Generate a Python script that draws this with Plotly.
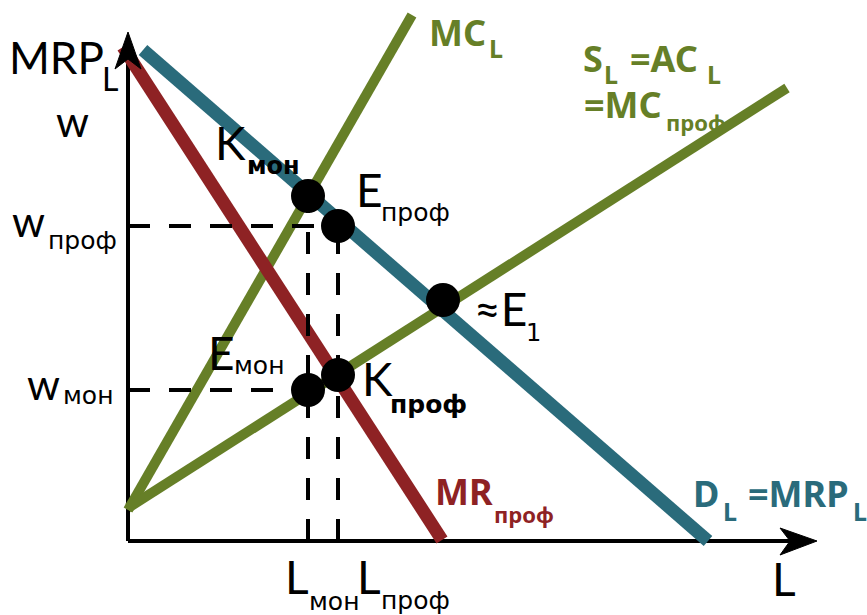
import plotly.graph_objects as go

# curves as (L, w) pairs, origin at the corner of the axes
mc_L = [0, 284]
mc_w = [31, 526]
s_L = [0, 659]
s_w = [33, 453]
d_L = [15, 580]
d_w = [491, 0]
mr_L = [-5, 314]
mr_w = [494, 1]

# equilibrium points: K_мон, E_проф, ≈E1, E_мон, K_проф
pt_L = [180, 210, 315, 180, 210]
pt_w = [345, 315, 241, 151, 166]

# levels marked on the axes
L_mon, L_prof = 180, 210
w_prof, w_mon = 315, 151

GREEN = '#667f27'
TEAL = '#2a6b7b'
RED = '#8e2224'
MAIN = 'Lato, DejaVu Sans, sans-serif'
CYR = 'DejaVu Sans, sans-serif'
BOLD = 'Noto Sans, DejaVu Sans, sans-serif'

fig = go.Figure()

# axes
fig.add_trace(go.Scatter(x=[0, 0], y=[0, 486], mode='lines', line=dict(color='black', width=4)))
fig.add_trace(go.Scatter(x=[0, 664], y=[0, 0], mode='lines', line=dict(color='black', width=4)))
fig.add_shape(type='path', path='M 0 509 L -13 472 L 0 482 L 13 472 Z',
              fillcolor='black', line=dict(color='black', width=1))
fig.add_shape(type='path', path='M 689 0 L 652 13 L 662 0 L 652 -14 Z',
              fillcolor='black', line=dict(color='black', width=1))

# curves
fig.add_trace(go.Scatter(x=mc_L, y=mc_w, mode='lines', line=dict(color=GREEN, width=10)))
fig.add_trace(go.Scatter(x=s_L, y=s_w, mode='lines', line=dict(color=GREEN, width=10)))
fig.add_trace(go.Scatter(x=d_L, y=d_w, mode='lines', line=dict(color=TEAL, width=13)))
fig.add_trace(go.Scatter(x=mr_L, y=mr_w, mode='lines', line=dict(color=RED, width=13)))

# dashed guides
dash = dict(color='black', width=4, dash='22px,19px')
fig.add_trace(go.Scatter(x=[0, L_prof], y=[w_prof, w_prof], mode='lines', line=dash))
fig.add_trace(go.Scatter(x=[0, L_mon], y=[w_mon, w_mon], mode='lines', line=dash))
fig.add_trace(go.Scatter(x=[L_mon, L_mon], y=[0, pt_w[0]], mode='lines', line=dash))
fig.add_trace(go.Scatter(x=[L_prof, L_prof], y=[0, w_prof], mode='lines', line=dash))

fig.add_trace(go.Scatter(x=pt_L, y=pt_w, mode='markers',
                         marker=dict(color='black', size=34, line=dict(width=0))))


def label(x, y, text, size, color='black', family=MAIN, bold=False):
    fig.add_annotation(x=x, y=y, text=text, showarrow=False, xanchor='center', yanchor='middle',
                       font=dict(size=size, color=color, family=family,
                                 weight='bold' if bold else 'normal'))


# y-axis texts
label(-72, 484, 'MRP', 44)
label(-18, 463, 'L', 32)
label(-56, 420, 'w', 42)
label(-100, 320, 'w', 42)
label(-46, 301, 'проф', 25, family=CYR)
label(-85, 157, 'w', 42)
label(-40, 146, 'мон', 25, family=CYR)

# point labels
label(102, 399, 'K', 46)
label(145, 375, 'мон', 24, family=CYR, bold=True)
label(241, 352, 'E', 46)
label(287, 329, 'проф', 25, family=CYR)
label(372, 233, '≈E', 46)
label(405, 208, '1', 24, family=CYR)
label(93, 189, 'E', 46)
label(131, 176, 'мон', 25, family=CYR)
label(249, 163, 'K', 46)
label(300, 137, 'проф', 25, family=CYR, bold=True)

# curve labels
label(329, 509, 'MC', 36, GREEN, BOLD, True)
label(368, 493, 'L', 25, GREEN, BOLD, True)
label(465, 483, 'S', 36, GREEN, BOLD, True)
label(483, 467, 'L', 25, GREEN, BOLD, True)
label(536, 483, '=AC', 36, GREEN, BOLD, True)
label(586, 467, 'L', 25, GREEN, BOLD, True)
label(495, 437, '=MC', 36, GREEN, BOLD, True)
label(568, 419, 'проф', 22, GREEN, BOLD, True)
label(336, 50, 'MR', 36, RED, BOLD, True)
label(396, 27, 'проф', 22, RED, BOLD, True)
label(578, 48, 'D', 36, TEAL, BOLD, True)
label(602, 30, 'L', 25, TEAL, BOLD, True)
label(670, 48, '=MRP', 36, TEAL, BOLD, True)
label(732, 30, 'L', 25, TEAL, BOLD, True)

# x-axis texts
label(656, -37, 'L', 46)
label(169, -35, 'L', 46)
label(206, -60, 'мон', 25, family=CYR)
label(241, -35, 'L', 46)
label(287, -59, 'проф', 25, family=CYR)

fig.update_layout(width=867, height=615, margin=dict(l=0, r=0, t=0, b=0),
                  paper_bgcolor='white', plot_bgcolor='white', showlegend=False,
                  hovermode=False)
fig.update_xaxes(range=[-128, 739], visible=False)
fig.update_yaxes(range=[-74, 541], visible=False)

fig.write_html("out.html", config={'displayModeBar': False},
               post_script="document.body.style.margin='0';")
